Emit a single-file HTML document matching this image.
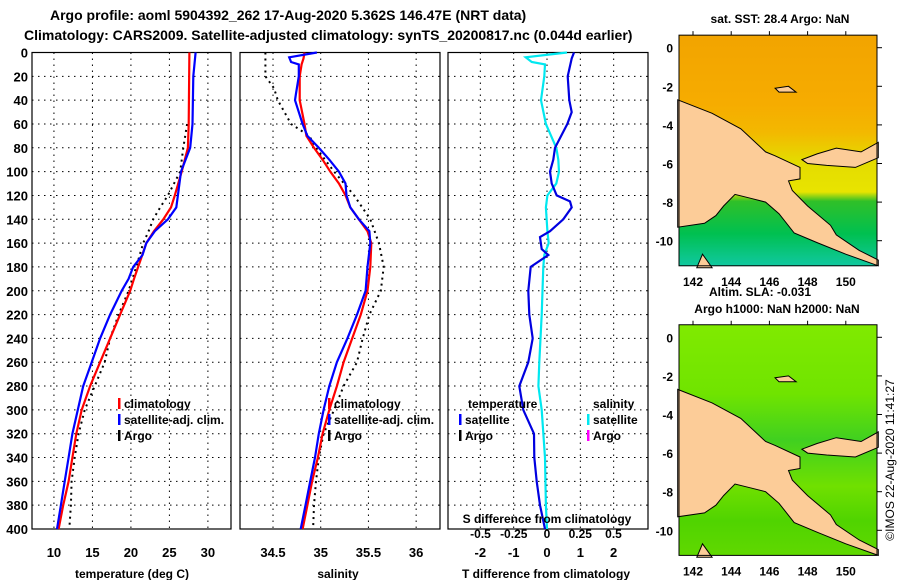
<!DOCTYPE html>
<html><head><meta charset="utf-8"><style>
body{margin:0;background:#fff;}
svg{display:block;font-family:"Liberation Sans",Arial,sans-serif;font-weight:bold;}
</style></head><body>
<svg id="s" width="900" height="580" xmlns="http://www.w3.org/2000/svg">
<text x="50" y="20" font-size="14">Argo profile: aoml 5904392_262 17-Aug-2020 5.362S 146.47E (NRT data)</text>
<text x="24" y="40" font-size="14">Climatology: CARS2009. Satellite-adjusted climatology: synTS_20200817.nc (0.044d earlier)</text>
</svg>
<script>
const depthTicks=[0,20,40,60,80,100,120,140,160,180,200,220,240,260,280,300,320,340,360,380,400];
const tempTicks=[10,15,20,25,30];
const salTicks=[34.5,35,35.5,36];
const tdTicks=[-2,-1,0,1,2];
const sdTicks=[-0.5,-0.25,0,0.25,0.5];
const climDepth=[0,60,80,100,120,130,140,150,160,175,190,200,220,240,260,280,300,320,340,360,380,400];
const climTemp=[27.6,27.5,27.4,26.6,25.7,25.2,24.2,23.0,22.0,21.2,20.4,19.9,18.6,17.3,16.0,14.7,13.6,12.9,12.4,11.9,11.2,10.6];
const satDepth=[0,20,60,80,100,120,130,140,150,160,170,180,190,200,220,240,260,280,300,320,340,360,380,400];
const satTemp=[28.4,28.1,28.0,27.7,26.5,26.1,25.9,24.8,23.1,22.0,21.5,20.3,19.7,18.8,17.3,16.0,14.9,13.8,13.1,12.4,11.9,11.4,10.9,10.4];
const argoTDepth=[60,80,100,120,130,140,150,160,180,200,220,240,260,280,300,320,340,360,380,400];
const argoTemp=[27.3,26.8,26.4,24.8,23.8,22.9,22.3,21.6,20.7,19.7,18.4,17.3,16.6,15.3,14.0,13.2,12.7,12.3,12.2,12.0];
const climSDepth=[0,5,10,20,40,60,70,80,90,100,110,120,130,140,150,160,180,200,220,240,260,280,300,320,340,360,380,400];
const climSal=[34.83,34.82,34.80,34.78,34.78,34.83,34.85,34.93,35.02,35.10,35.19,35.26,35.31,35.40,35.49,35.53,35.52,35.49,35.42,35.33,35.24,35.17,35.09,35.02,34.97,34.91,34.86,34.81];
const satSDepth=[0,4,8,10,20,35,40,60,70,80,90,100,110,120,130,140,150,160,180,200,220,240,260,280,300,320,340,360,380,400];
const satSal=[34.96,34.67,34.69,34.77,34.77,34.74,34.73,34.81,34.86,34.98,35.09,35.19,35.26,35.27,35.31,35.40,35.51,35.52,35.49,35.47,35.38,35.28,35.17,35.09,35.03,34.98,34.94,34.89,34.84,34.79];
const argoSDepth=[0,20,30,40,60,70,80,100,120,140,160,180,200,220,240,260,280,300,320,340,360,380,400];
const argoSal=[34.42,34.42,34.51,34.55,34.69,34.88,34.95,35.14,35.35,35.52,35.61,35.66,35.63,35.51,35.44,35.38,35.24,35.14,35.03,34.98,34.95,34.93,34.92];
const tdDepth=[0,5,20,40,50,60,80,90,100,110,120,125,130,140,150,155,165,170,180,200,220,240,260,280,300,320,340,360,380,400];
const tdVal=[0.81,0.74,0.62,0.67,0.74,0.61,0.24,0.19,0.09,0.14,0.29,0.69,0.74,0.49,0.09,-0.21,-0.16,0.04,-0.49,-0.56,-0.53,-0.43,-0.56,-0.83,-0.71,-0.39,-0.38,-0.31,-0.21,-0.06];
const sdDepth=[0,4,8,10,20,40,60,80,90,100,110,120,130,150,160,170,180,220,260,280,300,340,380,400];
const sdVal=[0.15,-0.16,-0.115,-0.015,-0.02,-0.045,-0.008,0.07,0.085,0.09,0.07,0.003,-0.008,0.003,0.013,-0.02,-0.028,-0.04,-0.058,-0.065,-0.04,-0.015,-0.008,0];
const mapLatTicks=[0,-2,-4,-6,-8,-10];
const mapLonTicks=[142,144,146,148,150];

const S=document.getElementById('s'),NS='http://www.w3.org/2000/svg';
function mk(t,a,p){const e=document.createElementNS(NS,t);for(const k in a)e.setAttribute(k,a[k]);(p||S).appendChild(e);return e;}
const Y=d=>52.5+d*476.5/400;
const panels=[{x0:32,x1:231,lo:7.15,hi:33},{x0:240,x1:440,lo:34.154,hi:36.25},{x0:448,x1:648,lo:-2.97,hi:3.03}];
const sx=(p,v)=>p.x0+(v-p.lo)/(p.hi-p.lo)*(p.x1-p.x0);
const sdx=v=>547+v*133;
function axis(p,ticks,name){
  const g=mk('g',{});
  
  
  depthTicks.forEach(d=>{if(d>0&&d<400)mk('line',{x1:p.x0,x2:p.x1,y1:Y(d),y2:Y(d),stroke:'#000','stroke-dasharray':'1.5,4.5','stroke-width':1},g);});
  ticks.forEach(v=>{const x=sx(p,v);mk('line',{x1:x,x2:x,y1:Y(0),y2:Y(400),stroke:'#000','stroke-dasharray':'1.5,4.5','stroke-width':1},g);
    const t=mk('text',{x:x,y:557,'font-size':13,'text-anchor':'middle'},g);t.textContent=v;});
  mk('rect',{x:p.x0,y:Y(0),width:p.x1-p.x0,height:Y(400)-Y(0),fill:'none',stroke:'#000','stroke-width':1.2},g);
}
function line(p,xs,ds,col,name,dash,fx){
  const pts=xs.map((v,i)=>(fx?fx(v):sx(p,v)).toFixed(1)+','+Y(ds[i]).toFixed(1)).join(' ');
  const e=mk('polyline',{points:pts,fill:'none',stroke:col,'stroke-width':dash?2:2.2});
  if(dash)e.setAttribute('stroke-dasharray',dash);
  
  
}
axis(panels[0],tempTicks,'temperature-axes');
axis(panels[1],salTicks,'salinity-axes');
axis(panels[2],tdTicks,'difference-axes');
depthTicks.forEach(d=>{const t=mk('text',{x:28,y:Y(d)+5,'font-size':13,'text-anchor':'end'});t.textContent=d;});
line(panels[0],argoTemp,argoTDepth,'#000','argo-temperature-line','2,4');
line(panels[0],climTemp,climDepth,'#f00','climatology-temperature-line');
line(panels[0],satTemp,satDepth,'#00f','satellite-temperature-line');
line(panels[1],argoSal,argoSDepth,'#000','argo-salinity-line','2,4');
line(panels[1],climSal,climSDepth,'#f00','climatology-salinity-line');
line(panels[1],satSal,satSDepth,'#00f','satellite-salinity-line');
line(panels[2],sdVal,sdDepth,'#00e8f0','salinity-difference-line',null,sdx);
line(panels[2],tdVal,tdDepth,'#0000e0','temperature-difference-line');
let t=mk('text',{x:547,y:523,'font-size':12,'text-anchor':'middle'});t.textContent='S difference from climatology';
sdTicks.forEach(v=>{const tt=mk('text',{x:sdx(v),y:538,'font-size':12,'text-anchor':'middle'});tt.textContent=v;});
[['temperature (deg C)',132],['salinity',338],['T difference from climatology',546]].forEach(a=>{const tt=mk('text',{x:a[1],y:578,'font-size':12,'text-anchor':'middle'});tt.textContent=a[0];});
function leg(x,y,col,txt,name){const g=mk('g',{});
  if(col)mk('rect',{x:x,y:y-10,width:2.5,height:11,fill:col},g);
  const tt=mk('text',{x:x+6,y:y,'font-size':12},g);tt.textContent=txt;}
leg(118,408,'#f00','climatology','legend-climatology-t');leg(118,424,'#00f','satellite-adj. clim.','legend-satellite-t');leg(118,440,'#000','Argo','legend-argo-t');
leg(328,408,'#f00','climatology','legend-climatology-s');leg(328,424,'#00f','satellite-adj. clim.','legend-satellite-s');leg(328,440,'#000','Argo','legend-argo-s');
leg(462,408,null,'temperature','legend-temperature-header');leg(459,424,'#00f','satellite','legend-satellite-td');leg(459,440,'#000','Argo','legend-argo-td');
leg(587,408,null,'salinity','legend-salinity-header');leg(587,424,'#00e8f0','satellite','legend-satellite-sd');leg(587,440,'#f0f','Argo','legend-argo-sd');
const land=[[141.2,-2.7],[143,-3.4],[144.5,-4.2],[145.8,-5.4],[146.3,-5.6],[147.6,-6.2],[147.6,-6.8],[147,-6.9],[147.2,-7.4],[148,-8.2],[149.2,-9.2],[149.5,-9.7],[150.7,-10.5],[151.7,-11],[151.7,-11.3],[150,-10.7],[148.5,-10.1],[147.3,-9.6],[146.5,-8.6],[145.8,-8],[145,-7.8],[144.2,-7.6],[143.6,-8.2],[143.2,-8.7],[142.6,-9.1],[141.2,-9.3]];
const nb=[[147.7,-5.8],[148.5,-5.5],[149.5,-5.2],[150.8,-5.4],[151.7,-4.9],[151.7,-5.7],[150.5,-6.2],[149,-6.1],[148,-6]];
const cy=[[142.2,-11.4],[142.5,-10.7],[143,-11.4]];
const isl=[[146.3,-2.1],[147,-2.0],[147.4,-2.3],[146.5,-2.3]];
function map(y0,grad,name,idx){
  const g=mk('g',{});
  const X=l=>693+(l-142)*19.1, YY=l=>y0-l*19.3;
  const top=YY(0.65),bot=YY(-11.3);
  const defs=mk('defs',{},g);const lg=mk('linearGradient',{id:'mg'+idx,x1:0,y1:0,x2:0,y2:1},defs);
  grad.forEach(s=>mk('stop',{offset:s[0],'stop-color':s[1]},lg));
  mk('rect',{x:679,y:top,width:198,height:bot-top,fill:'url(#mg'+idx+')'},g);
  [land,nb,cy,isl].forEach(pl=>mk('polygon',{points:pl.map(p=>X(p[0]).toFixed(1)+','+YY(p[1]).toFixed(1)).join(' '),fill:'#fccc98',stroke:'#000','stroke-width':1},g));
  mk('rect',{x:679,y:top,width:198,height:bot-top,fill:'none',stroke:'#000','stroke-width':1},g);
  mapLatTicks.forEach(l=>{const tt=mk('text',{x:673,y:YY(l)+5,'font-size':12,'text-anchor':'end'},g);tt.textContent=l;
    mk('line',{x1:877,x2:882,y1:YY(l),y2:YY(l),stroke:'#000'},g);});
  mapLonTicks.forEach(l=>{const tt=mk('text',{x:X(l),y:bot+20,'font-size':12,'text-anchor':'middle'},g);tt.textContent=l;
    mk('line',{x1:X(l),x2:X(l),y1:top-4,y2:top,stroke:'#000'},g);});
}
map(47.7,[[0,'#f2a400'],[0.3,'#f6ac00'],[0.42,'#f3b800'],[0.55,'#e4dc00'],[0.68,'#e8e400'],[0.72,'#30c028'],[0.86,'#00c050'],[1,'#10c8a0']],'sst-map',0);
map(337.3,[[0,'#80ea00'],[0.3,'#70e400'],[0.5,'#40d020'],[0.7,'#70e000'],[0.85,'#50d400'],[1,'#60d800']],'sla-map',1);
[['sat. SST: 28.4 Argo: NaN',780,23,'sst-map-title'],['Altim. SLA: -0.031',760,296,'sla-label'],['Argo h1000: NaN h2000: NaN',777,313,'sla-map-title']].forEach(a=>{const tt=mk('text',{x:a[1],y:a[2],'font-size':12,'text-anchor':'middle'});tt.textContent=a[0];
  });
t=mk('text',{x:0,y:0,'font-size':12,'font-weight':'normal','text-anchor':'middle',transform:'translate(894,460) rotate(-90)'});t.textContent='©IMOS 22-Aug-2020 11:41:27';

</script>
</body></html>
